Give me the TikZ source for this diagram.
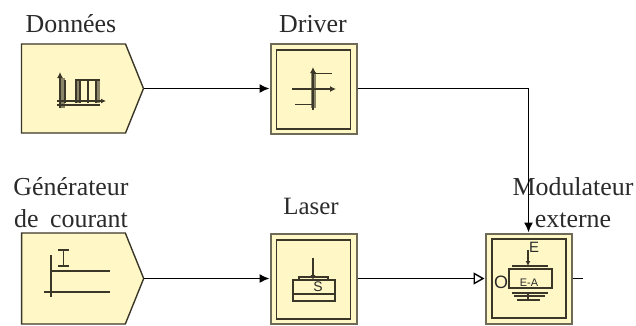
\documentclass[tikz,border=0pt]{standalone}
\usepackage{fontspec}
\setmainfont{Liberation Serif}
\newfontfamily\labelsans{Liberation Sans}
\usetikzlibrary{arrows.meta,shapes.symbols}
\definecolor{blockfill}{HTML}{FFF8C6}
\definecolor{blockedge}{HTML}{3A3728}
\definecolor{blockouter}{HTML}{6E6A58}
\definecolor{barfill}{HTML}{8A8468}
\definecolor{txt}{HTML}{2A2A2A}
\tikzset{
  x=1bp,y=-1bp,
  lbl/.style={font=\fontsize{26}{32}\selectfont,text=txt,inner sep=0pt,align=center},
  srcblock/.style={draw=blockedge,line width=1.4bp,fill=blockfill,shape=signal,signal to=east,signal pointer angle=136,minimum width=122bp,minimum height=89bp,inner sep=0pt},
  dblock/.style={draw=blockouter,line width=2bp,fill=blockfill,minimum width=86bp,minimum height=90bp,inner sep=0pt},
  dinner/.style={draw=blockedge,line width=1.6bp,minimum width=74bp,minimum height=79bp,inner sep=0pt},
  conn/.style={draw=black,line width=1.5bp},
  arr/.style={conn,-{Latex[length=10bp,width=9bp]}},
  openarr/.style={conn,-{Triangle[open,length=11bp,width=12bp,line width=1.4bp]}},
  icon/.style={draw=blockedge,line width=1.5bp},
  bar/.style={draw=barfill},
  smalltxt/.style={text=txt,inner sep=0pt},
}
\begin{document}
\begin{tikzpicture}
\useasboundingbox (0,0) rectangle (636,325);
% labels
\node[lbl] (ldata) at (71,24) {Données};
\node[lbl] (lgen) at (71,203) {Générateur\\de\hspace{5bp} courant};
\node[lbl] (ldrv) at (313,24) {Driver};
\node[lbl,font=\fontsize{25}{30}\selectfont] (llas) at (311,206) {Laser};
% blocks
\node[srcblock] (data) at (73.5,88.5) {};
\node[srcblock,minimum height=91bp] (gen) at (73.5,278.5) {};
\node[dblock] (drv) at (313.5,88.5) {};
\node[dinner] at (313.5,89.5) {};
\node[dblock] (las) at (313.5,278.5) {};
\node[dinner] at (313.5,279.5) {};
\node[dblock] (mod) at (528.5,278.5) {};
\node[dinner] at (529,278.5) {};
\node[lbl] (lmod) at (573,203) {Modulateur\\externe};
% connectors
\coordinate (corner) at (mod.north |- drv.east);
\coordinate (modout) at (583,278.5);
\draw[arr] (data.east) -- (drv.west);
\draw[arr] (drv.east) -- (corner) -- (mod.north);
\draw[arr] (gen.east) -- (las.west);
\draw[openarr] (las.east) -- (mod.west);
\draw[conn] (mod.east) -- (modout);
% data icon
\draw[bar,line width=5bp] (62,78) -- (62,108);
\draw[bar,line width=3.5bp] (78,80) -- (78,103) (98,80) -- (98,103);
\draw[icon,-{Latex[length=5bp,width=5bp]}] (57,101) -- (106,101);
\draw[icon] (57,105) -- (100,105);
\draw[icon] (65,80) -- (65,103) (76,103) -- (76,80) -- (100,80) (88,80) -- (88,103) (80,80) -- (80,103) (96,80) -- (96,103);
\draw[icon,-{Latex[length=6bp,width=6bp]}] (60,108) -- (60,72);
% driver icon
\draw[bar,line width=5bp] (313,72) -- (313,108);
\draw[icon,-{Latex[length=6bp,width=6bp]}] (313,110) -- (313,67);
\draw[icon] (313,73.5) -- (332,73.5);
\draw[icon] (295,104.5) -- (313,104.5);
\draw[icon,-{Latex[length=6bp,width=6bp]}] (292,89) -- (336,89);
% generator icon
\draw[icon] (51,255) -- (51,297);
\draw[icon] (44,292) -- (110,292);
\draw[icon] (51,271) -- (110,271);
\draw[icon,line width=1.7bp] (58,250) -- (69,250) (63.5,250) -- (63.5,266) (58,266) -- (69,266);
% laser icon
\draw[icon,line width=1.6bp] (293,280) rectangle (335,301);
\draw[icon] (293,294) -- (335,294);
\draw[icon] (299,280) -- (299,277) -- (328,277) -- (328,280);
\draw[icon,-{Latex[length=5bp,width=5bp]}] (313,258) -- (313,280);
\node[smalltxt,font=\labelsans\fontsize{14}{14}\selectfont] (ls) at (318,287) {S};
% modulator icon
\draw[icon] (509,269) rectangle (552,288);
\draw[icon,line width=1.6bp] (512,266) -- (548,266);
\draw[icon,-{Latex[length=5bp,width=5bp]}] (528,250) -- (528,266);
\draw[icon] (512,293) -- (548,293) (514,296) -- (545,296) (517,300) -- (540,300);
\draw[icon] (528,293) -- (528,300);
\node[smalltxt,font=\labelsans\fontsize{15}{15}\selectfont] (le) at (534,247) {E};
\node[smalltxt,font=\labelsans\fontsize{11}{11}\selectfont] (lea) at (529,283) {E-A};
\node[smalltxt,font=\labelsans\fontsize{18}{18}\selectfont] (lo) at (501,282) {O};
\end{tikzpicture}
\end{document}
